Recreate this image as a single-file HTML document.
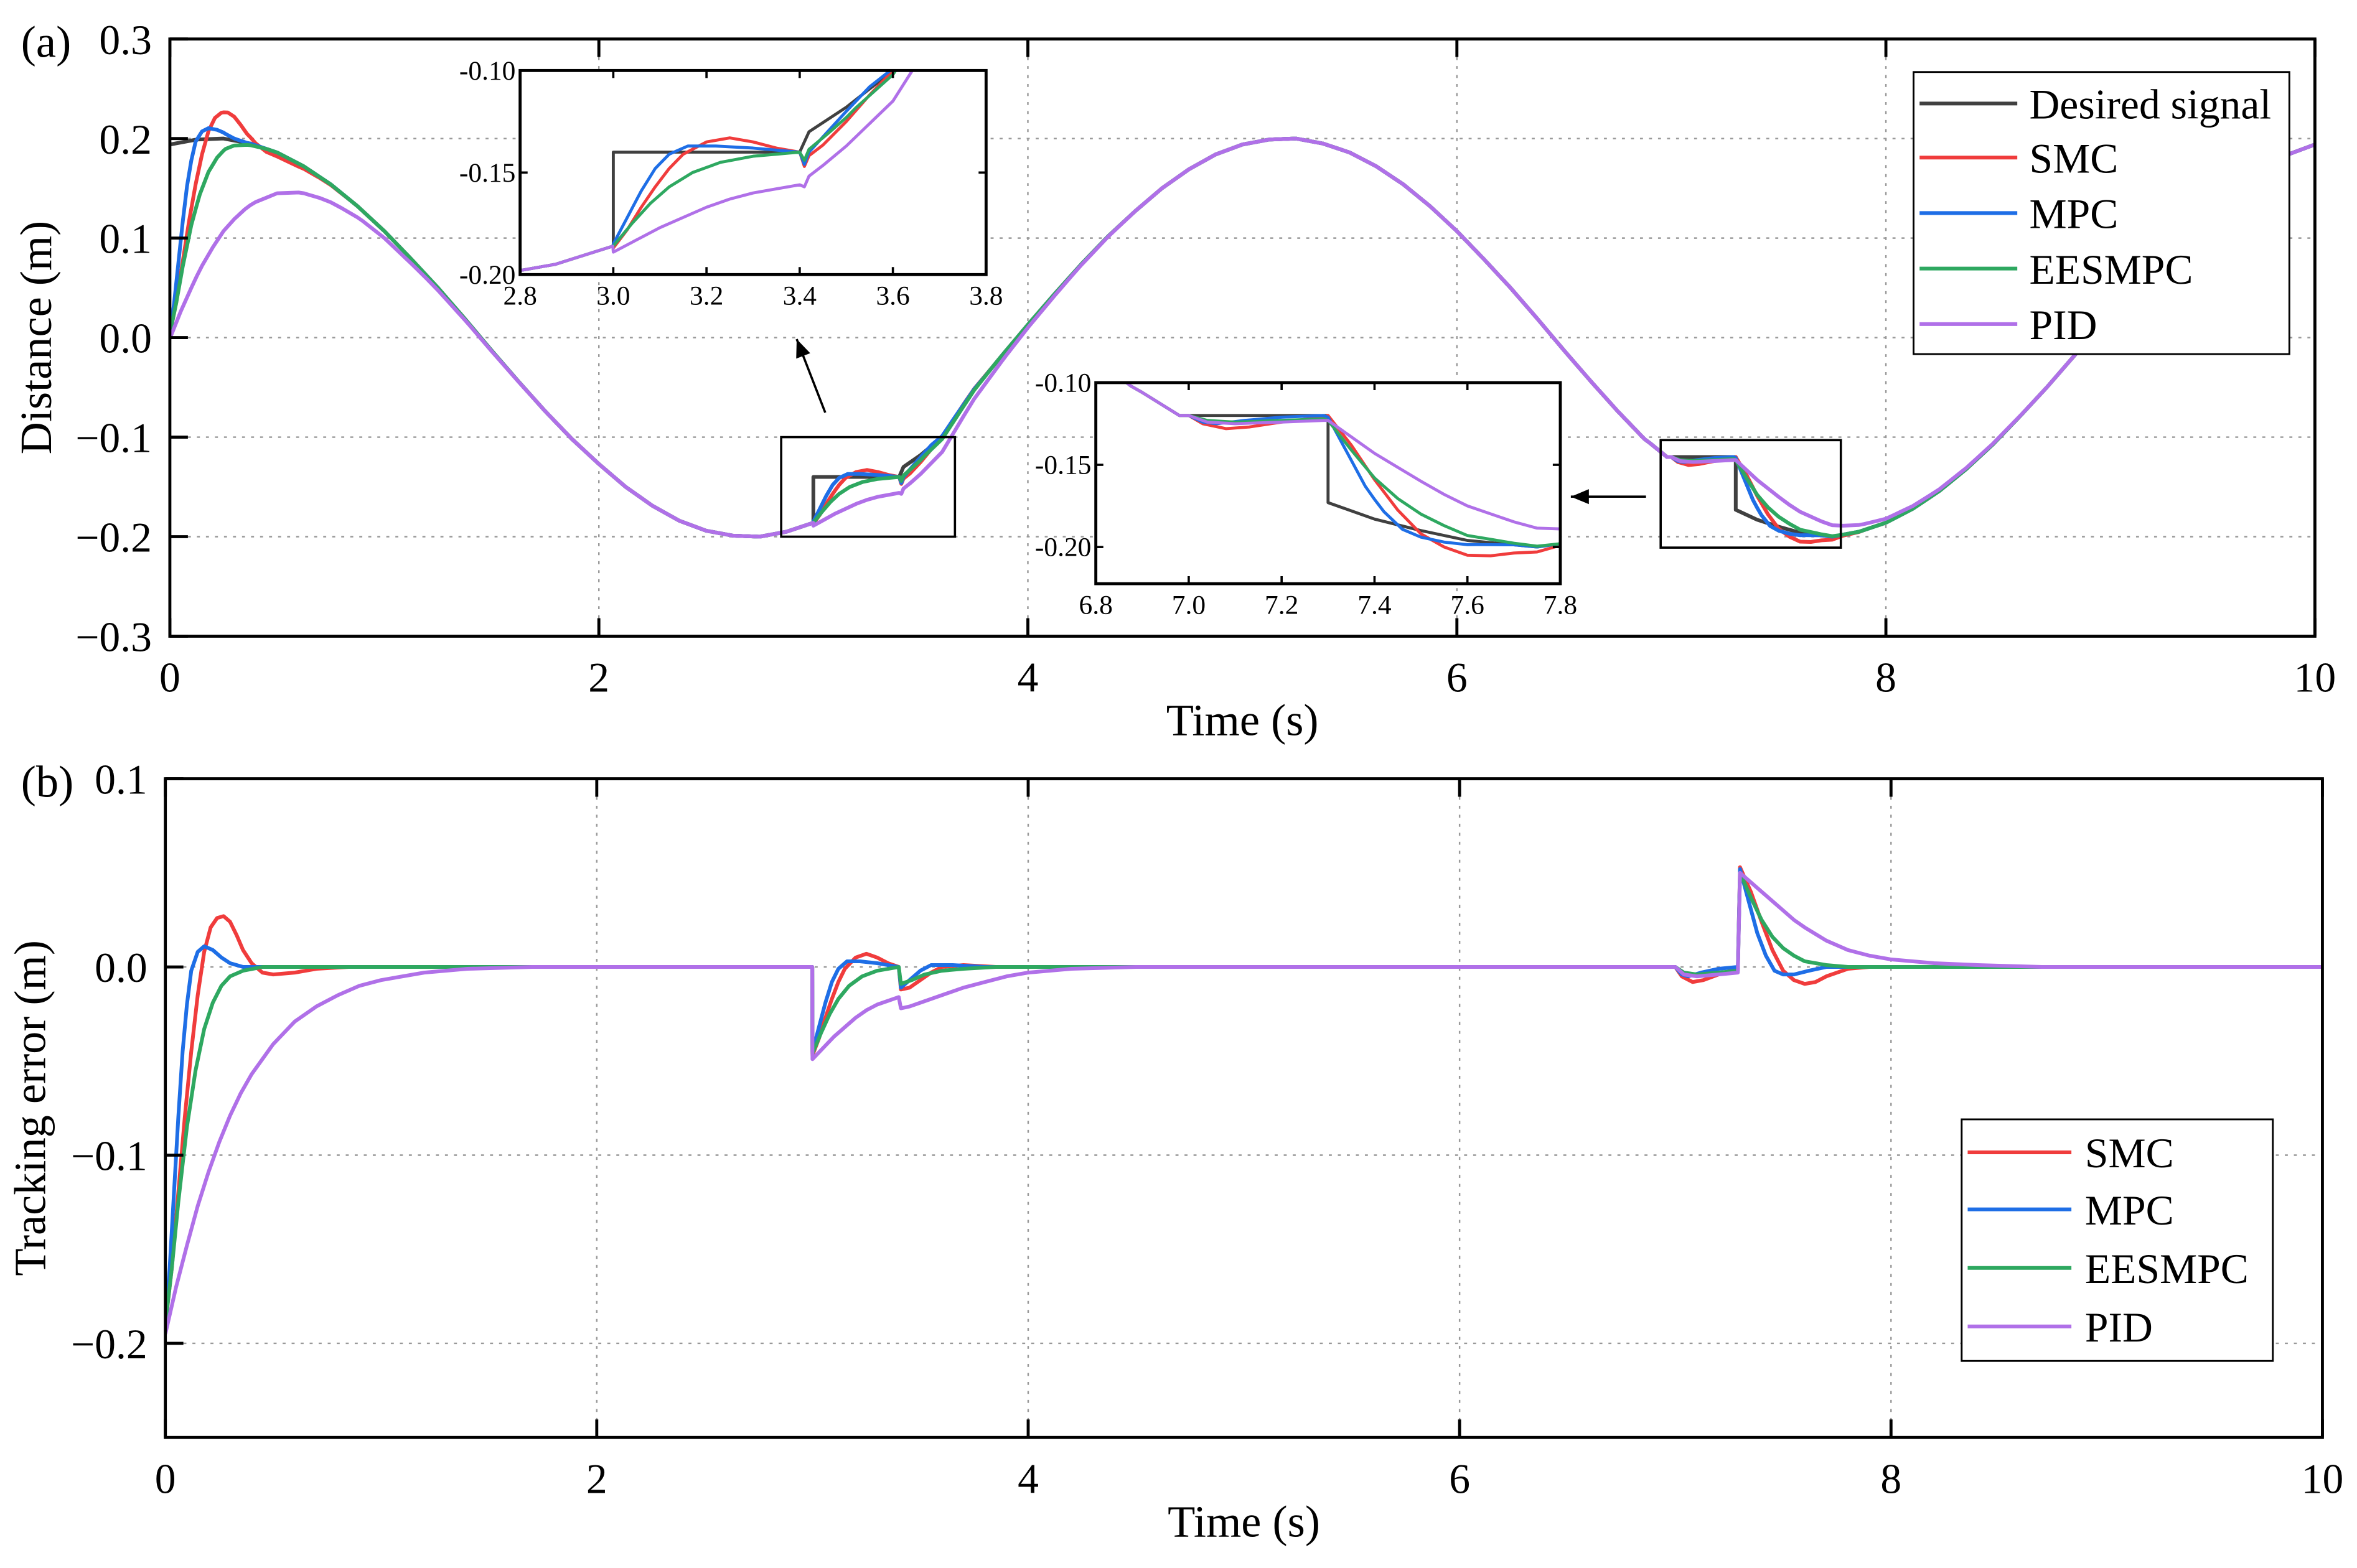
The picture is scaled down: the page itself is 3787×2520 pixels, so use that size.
<!DOCTYPE html>
<html><head><meta charset="utf-8"><style>
html,body{margin:0;padding:0;background:#fff}
svg{display:block}
text{font-family:"Liberation Serif",serif;fill:#000}
</style></head><body>
<svg id="chart" width="3787" height="2520" viewBox="0 0 1568 1045" preserveAspectRatio="none" xmlns="http://www.w3.org/2000/svg"></svg>
<script>
// desired signal
const desiredT=[0,0.125,0.25,0.375,0.5,0.625,0.75,0.875,1,1.125,1.25,1.375,1.5,1.625,1.75,1.875,2,2.125,2.25,2.375,2.5,2.625,2.75,2.875,3.0,3.0,3.4,3.42,3.5,3.6,3.7,3.75,3.875,4,4.125,4.25,4.375,4.5,4.625,4.75,4.875,5,5.125,5.25,5.375,5.5,5.625,5.75,5.875,6,6.125,6.25,6.375,6.5,6.625,6.75,6.875,6.9,6.98,7.3,7.3,7.4,7.5,7.6,7.75,7.875,8,8.125,8.25,8.375,8.5,8.625,8.75,8.875,9,9.125,9.25,9.375,9.5,9.625,9.75,9.875,10];
const desiredY=[0.194,0.199,0.200,0.195,0.186,0.172,0.154,0.132,0.107,0.079,0.050,0.019,-0.013,-0.044,-0.074,-0.102,-0.127,-0.150,-0.169,-0.184,-0.194,-0.199,-0.200,-0.195,-0.186,-0.14,-0.14,-0.13,-0.118,-0.100,-0.068,-0.052,-0.019,0.013,0.044,0.074,0.102,0.127,0.150,0.169,0.184,0.194,0.199,0.200,0.195,0.186,0.172,0.154,0.132,0.107,0.079,0.050,0.019,-0.013,-0.044,-0.074,-0.102,-0.106,-0.12,-0.12,-0.173,-0.183,-0.190,-0.196,-0.200,-0.195,-0.186,-0.172,-0.154,-0.132,-0.107,-0.079,-0.050,-0.019,0.013,0.044,0.074,0.102,0.127,0.150,0.169,0.184,0.194];
// tracking errors
const smcT=[0,0.03,0.06,0.09,0.12,0.15,0.18,0.21,0.24,0.27,0.3,0.33,0.36,0.4,0.45,0.5,0.6,0.7,0.85,2.999,3.0,3.03,3.06,3.09,3.12,3.15,3.2,3.25,3.3,3.35,3.4,3.41,3.45,3.5,3.55,3.6,3.7,3.85,7.0,7.03,7.08,7.13,7.2,7.29,7.3,7.35,7.4,7.45,7.5,7.55,7.6,7.65,7.7,7.8,7.9,10];
const smcE=[-0.19,-0.16,-0.12,-0.08,-0.045,-0.015,0.008,0.021,0.026,0.027,0.024,0.017,0.009,0.002,-0.003,-0.004,-0.003,-0.001,0,0,-0.047,-0.038,-0.027,-0.017,-0.008,-0.001,0.005,0.007,0.005,0.002,0,-0.012,-0.011,-0.007,-0.003,0,0.001,0,0,-0.005,-0.008,-0.007,-0.004,-0.001,0.053,0.04,0.024,0.009,-0.002,-0.007,-0.009,-0.008,-0.005,-0.001,0,0];
const mpcT=[0,0.02,0.04,0.06,0.08,0.1,0.12,0.15,0.18,0.22,0.26,0.3,0.36,2.999,3.0,3.03,3.06,3.09,3.12,3.16,3.22,3.3,3.4,3.41,3.45,3.5,3.55,3.65,3.8,7.0,7.03,7.06,7.12,7.2,7.29,7.3,7.34,7.38,7.42,7.46,7.5,7.55,7.62,7.7,10];
const mpcE=[-0.19,-0.16,-0.12,-0.08,-0.045,-0.02,-0.002,0.008,0.011,0.009,0.005,0.002,0,0,-0.045,-0.032,-0.019,-0.008,-0.001,0.003,0.003,0.002,0,-0.011,-0.007,-0.002,0.001,0.001,0,0,-0.004,-0.005,-0.003,-0.001,0,0.052,0.035,0.018,0.006,-0.002,-0.004,-0.004,-0.002,0,0];
const eesT=[0,0.03,0.06,0.1,0.14,0.18,0.22,0.26,0.3,0.36,0.45,2.999,3.0,3.04,3.08,3.12,3.17,3.23,3.3,3.4,3.41,3.46,3.52,3.6,3.7,3.85,7.0,7.04,7.1,7.2,7.29,7.3,7.35,7.4,7.45,7.5,7.55,7.6,7.7,7.8,10];
const eesE=[-0.19,-0.16,-0.125,-0.085,-0.055,-0.033,-0.019,-0.01,-0.005,-0.002,0,0,-0.046,-0.035,-0.025,-0.017,-0.01,-0.005,-0.002,0,-0.009,-0.007,-0.004,-0.002,-0.001,0,0,-0.003,-0.004,-0.003,-0.002,0.05,0.037,0.025,0.016,0.01,0.006,0.003,0.001,0,0];
const pidT=[0,0.05,0.1,0.15,0.2,0.25,0.3,0.35,0.4,0.5,0.6,0.7,0.8,0.9,1.0,1.2,1.4,1.7,2.999,3.0,3.05,3.1,3.15,3.2,3.25,3.3,3.35,3.4,3.41,3.45,3.5,3.6,3.7,3.8,3.9,4.0,4.2,4.5,7.0,7.04,7.1,7.2,7.29,7.3,7.35,7.4,7.45,7.5,7.55,7.6,7.7,7.8,7.9,8.0,8.2,8.4,8.7,10];
const pidE=[-0.195,-0.17,-0.148,-0.127,-0.109,-0.093,-0.079,-0.067,-0.057,-0.041,-0.029,-0.021,-0.015,-0.01,-0.007,-0.003,-0.001,0,0,-0.049,-0.043,-0.037,-0.032,-0.027,-0.023,-0.02,-0.018,-0.016,-0.022,-0.021,-0.019,-0.015,-0.011,-0.008,-0.005,-0.003,-0.001,0,0,-0.004,-0.005,-0.004,-0.003,0.05,0.045,0.04,0.035,0.03,0.025,0.021,0.014,0.009,0.006,0.004,0.002,0.001,0,0];
const seriesNames=['SMC','MPC','EESMPC','PID'];
const xTicks=[0,2,4,6,8,10];
const topYTicks=[-0.3,-0.2,-0.1,0.0,0.1,0.2,0.3];
const botYTicks=[-0.2,-0.1,0.0,0.1];

const NS='http://www.w3.org/2000/svg';
const svg=document.getElementById('chart');
const colors={desired:'#404040',SMC:'#f03c3c',MPC:'#1e6ee6',EESMPC:'#2ea860',PID:'#b070e8'};
const errs={SMC:[smcT,smcE],MPC:[mpcT,mpcE],EESMPC:[eesT,eesE],PID:[pidT,pidE]};
function mk(tag,attrs,parent){const e=document.createElementNS(NS,tag);for(const k in attrs)e.setAttribute(k,attrs[k]);(parent||svg).appendChild(e);return e;}
function interp(ts,ys,t){let i=0;for(let k=0;k<ts.length;k++){if(ts[k]<=t)i=k;else break;}if(i>=ts.length-1)return ys[ts.length-1];const t0=ts[i],t1=ts[i+1];if(t1===t0)return ys[i+1];return ys[i]+(ys[i+1]-ys[i])*(t-t0)/(t1-t0);}
function topSeries(name){const [et,ee]=errs[name];const set=new Set();desiredT.forEach(t=>set.add(t));et.forEach(t=>set.add(t));for(let k=0;k<=1000;k+=5)set.add(k/100);const ts=[...set].sort((a,b)=>a-b);return ts.map(t=>[t,interp(desiredT,desiredY,t)+interp(et,ee,t)]);}
function desiredPts(){return desiredT.map((t,i)=>[t,desiredY[i]]);}
function pathD(pts,sx,sy){return pts.map((p,i)=>(i?'L':'M')+sx(p[0]).toFixed(2)+','+sy(p[1]).toFixed(2)).join('');}
function text(x,y,s,size,anchor,parent){const e=mk('text',{x:x,y:y,'font-size':size,'text-anchor':anchor||'middle'},parent);e.textContent=s;return e;}
function fmtMinus(v,d){const s=Math.abs(v).toFixed(d);return (v<0?'\u2212':'')+s;}

const T={l:113,r:1540,t:26,b:424,x0:0,x1:10,y0:-0.3,y1:0.3};
const BT={l:110,r:1545,t:519,b:958,x0:0,x1:10,y0:-0.25,y1:0.1};
function axes(P){
  const sx=v=>P.l+(v-P.x0)/(P.x1-P.x0)*(P.r-P.l);
  const sy=v=>P.b-(v-P.y0)/(P.y1-P.y0)*(P.b-P.t);
  return [sx,sy];
}
function drawPanel(P,yTicks,name){
  const [sx,sy]=axes(P);
  const g=mk('g',{});
  
  
  xTicks.forEach(v=>{const l=mk('line',{x1:sx(v),x2:sx(v),y1:P.t,y2:P.b,stroke:'#999','stroke-width':1,'stroke-dasharray':'2,4'},g);});
  yTicks.forEach(v=>{const l=mk('line',{x1:P.l,x2:P.r,y1:sy(v),y2:sy(v),stroke:'#999','stroke-width':1,'stroke-dasharray':'2,4'},g);});
  return [sx,sy,g];
}
function frame(P,yTicks,g,sx,sy,ylabel,panelLabel,ylabX){
  mk('rect',{x:P.l,y:P.t,width:P.r-P.l,height:P.b-P.t,fill:'none',stroke:'#000','stroke-width':2},g);
  xTicks.forEach(v=>{mk('line',{x1:sx(v),x2:sx(v),y1:P.b,y2:P.b-12,stroke:'#000','stroke-width':2},g);mk('line',{x1:sx(v),x2:sx(v),y1:P.t,y2:P.t+12,stroke:'#000','stroke-width':2},g);
    const t=text(sx(v),P.b+37,String(v),28,'middle',g);});
  yTicks.forEach(v=>{mk('line',{x1:P.l,x2:P.l+12,y1:sy(v),y2:sy(v),stroke:'#000','stroke-width':2},g);
    const t=text(P.l-12,sy(v)+10,fmtMinus(v,1),28,'end',g);});
  const xt=text((P.l+P.r)/2,P.b+66,'Time (s)',30,'middle',g);
  const yt=text(0,0,ylabel,30,'middle',g);yt.setAttribute('transform','translate('+ylabX+','+((P.t+P.b)/2)+') rotate(-90)');
  const pl=text(14,P.t+12,panelLabel,30,'start',g);
}
function drawLines(pts,sx,sy,color,w,parent,nm,clip){const p=mk('path',{d:pathD(pts,sx,sy),fill:'none',stroke:color,'stroke-width':w,'stroke-linejoin':'round'},parent);if(clip)p.setAttribute('clip-path','url(#'+clip+')');return p;}

const defs=mk('defs',{});
function clipRect(id,P){const c=mk('clipPath',{id:id},defs);mk('rect',{x:P.l,y:P.t,width:P.r-P.l,height:P.b-P.t},c);}
clipRect('clipTop',T);clipRect('clipBot',BT);

// top
let [sx,sy,gTop]=drawPanel(T,topYTicks,'distance-chart');
drawLines(desiredPts(),sx,sy,colors.desired,2.5,gTop,'desired-signal-line','clipTop');
seriesNames.forEach(n=>drawLines(topSeries(n),sx,sy,colors[n],2.5,gTop,n.toLowerCase()+'-line','clipTop'));
frame(T,topYTicks,gTop,sx,sy,'Distance (m)','(a)',34);

function zoomBox(t0,t1,y0,y1,nm){const r=mk('rect',{x:sx(t0),y:sy(y1),width:sx(t1)-sx(t0),height:sy(y0)-sy(y1),fill:'none',stroke:'#000','stroke-width':1.5},gTop);}
zoomBox(2.85,3.66,-0.2,-0.1,'zoom-region-1');
zoomBox(6.95,7.79,-0.211,-0.103,'zoom-region-2');
function arrow(x1,y1,x2,y2,nm){const g=mk('g',{},gTop);mk('line',{x1:x1,y1:y1,x2:x2,y2:y2,stroke:'#000','stroke-width':1.5},g);const a=Math.atan2(y2-y1,x2-x1),L=12,W=5;const p1=[x2-L*Math.cos(a)+W*Math.sin(a),y2-L*Math.sin(a)-W*Math.cos(a)],p2=[x2-L*Math.cos(a)-W*Math.sin(a),y2-L*Math.sin(a)+W*Math.cos(a)];mk('polygon',{points:x2+','+y2+' '+p1.join(',')+' '+p2.join(','),fill:'#000'},g);}
arrow(549,275,530,226,'zoom-arrow-1');
arrow(1095,331,1045,331,'zoom-arrow-2');

function inset(P,xt,yt,id,nm){
  const [ix,iy]=axes(P);
  const g=mk('g',{},gTop);
  mk('rect',{x:P.l,y:P.t,width:P.r-P.l,height:P.b-P.t,fill:'#fff'},g);
  clipRect(id,P);
  drawLines(desiredPts(),ix,iy,colors.desired,2,g,'inset-desired-line',id);
  seriesNames.forEach(n=>drawLines(topSeries(n),ix,iy,colors[n],2,g,'inset-'+n.toLowerCase()+'-line',id));
  mk('rect',{x:P.l,y:P.t,width:P.r-P.l,height:P.b-P.t,fill:'none',stroke:'#000','stroke-width':2},g);
  xt.forEach(v=>{mk('line',{x1:ix(v),x2:ix(v),y1:P.b,y2:P.b-5,stroke:'#000','stroke-width':1.5},g);mk('line',{x1:ix(v),x2:ix(v),y1:P.t,y2:P.t+5,stroke:'#000','stroke-width':1.5},g);const t=text(ix(v),P.b+20,v.toFixed(1),18,'middle',g);});
  yt.forEach(v=>{mk('line',{x1:P.l,x2:P.l+5,y1:iy(v),y2:iy(v),stroke:'#000','stroke-width':1.5},g);mk('line',{x1:P.r,x2:P.r-5,y1:iy(v),y2:iy(v),stroke:'#000','stroke-width':1.5},g);const t=text(P.l-3,iy(v)+6,v.toFixed(2),18,'end',g);});
}
inset({l:346,r:656,t:47,b:183,x0:2.8,x1:3.8,y0:-0.2,y1:-0.1},[2.8,3.0,3.2,3.4,3.6,3.8],[-0.10,-0.15,-0.20],'clipIn1','inset-zoom-1');
inset({l:729,r:1038,t:255,b:389,x0:6.8,x1:7.8,y0:-0.2223,y1:-0.1},[6.8,7.0,7.2,7.4,7.6,7.8],[-0.10,-0.15,-0.20],'clipIn2','inset-zoom-2');

function legend(x,y,w,h,entries,lineX1,lineX2,textX,ys,nm,parent){
  const g=mk('g',{},parent);
  mk('rect',{x:x,y:y,width:w,height:h,fill:'#fff',stroke:'#000','stroke-width':1.2},g);
  entries.forEach((e,i)=>{const ge=mk('g',{},g);
    mk('line',{x1:lineX1,x2:lineX2,y1:ys[i],y2:ys[i],stroke:e[1],'stroke-width':2.5},ge);text(textX,ys[i]+10,e[0],28,'start',ge);});
}
legend(1273,48,250,188,[['Desired signal',colors.desired],['SMC',colors.SMC],['MPC',colors.MPC],['EESMPC',colors.EESMPC],['PID',colors.PID]],1277,1342,1350,[69,105,142,179,216],'legend-top',gTop);

// bottom
let [bx,by,gBot]=drawPanel(BT,botYTicks,'tracking-error-chart');
seriesNames.forEach(n=>{const [et,ee]=errs[n];drawLines(et.map((t,i)=>[t,ee[i]]),bx,by,colors[n],2.5,gBot,n.toLowerCase()+'-error-line','clipBot');});
frame(BT,botYTicks,gBot,bx,by,'Tracking error (m)','(b)',30);
legend(1305,746,207,161,[['SMC',colors.SMC],['MPC',colors.MPC],['EESMPC',colors.EESMPC],['PID',colors.PID]],1309,1378,1387,[768,806,845,884],'legend-bottom',gBot);
</script>
</body></html>
